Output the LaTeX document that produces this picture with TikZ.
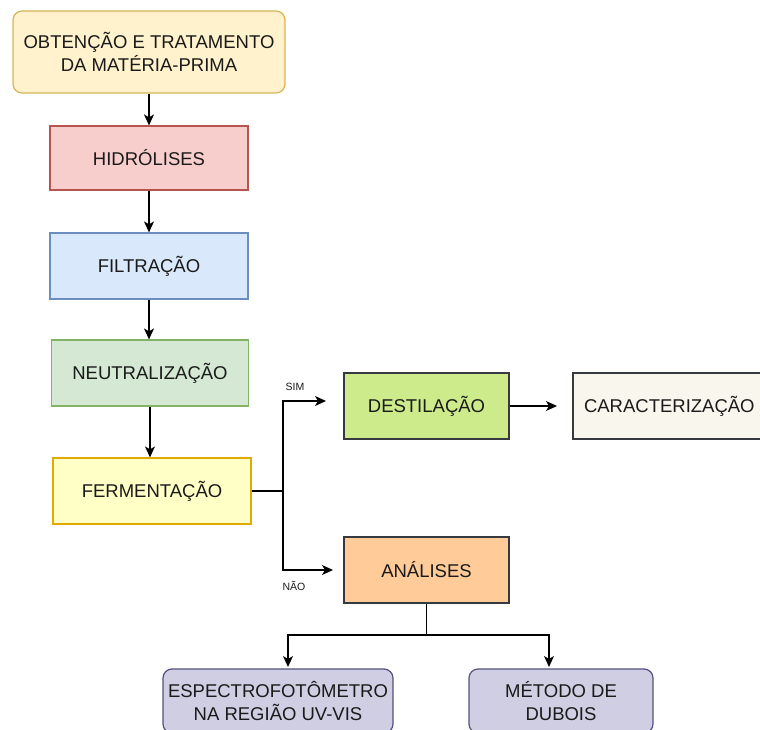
\documentclass[tikz,border=0pt]{standalone}
\usepackage{fontspec}
\setmainfont{Liberation Sans}
\usetikzlibrary{arrows.meta}
\definecolor{txt}{HTML}{1A1A1A}
\definecolor{line}{HTML}{36393D}
\definecolor{topF}{HTML}{FFF2CC}\definecolor{topD}{HTML}{D6B656}
\definecolor{hidF}{HTML}{F8CECC}\definecolor{hidD}{HTML}{B85450}
\definecolor{filF}{HTML}{DAE8FC}\definecolor{filD}{HTML}{6C8EBF}
\definecolor{neuF}{HTML}{D5E8D4}\definecolor{neuD}{HTML}{82B366}
\definecolor{ferF}{HTML}{FFFFC6}\definecolor{ferD}{HTML}{E0A800}
\definecolor{desF}{HTML}{CDEB8B}
\definecolor{carF}{HTML}{F9F7ED}
\definecolor{anaF}{HTML}{FFCC99}
\definecolor{purF}{HTML}{D0CEE2}\definecolor{purD}{HTML}{56517E}
\tikzset{
  box/.style={draw, line width=1.2pt, align=center, inner sep=0pt, text=txt,
    font=\fontsize{18.5}{23}\selectfont},
  conn/.style={line width=1.3pt, black},
  arr/.style={conn, -{Stealth[length=11pt,width=10pt,inset=3pt]}},
  lbl/.style={font=\fontsize{10.5}{12}\selectfont, text=txt, inner sep=0pt}
}
\begin{document}
\begin{tikzpicture}[x=1pt,y=-1pt]
\useasboundingbox (0,0) rectangle (760,730);
\fill[white] (0,0) rectangle (760,730);
\begin{scope}
\clip (0,0) rectangle (760,730);
\node[box, rounded corners=9pt, fill=topF, draw=topD, minimum width=272pt, minimum height=82pt] (top) at (149,52) {OBTENÇÃO E TRATAMENTO\\DA MATÉRIA-PRIMA};
\node[box, fill=hidF, draw=hidD, minimum width=198pt, minimum height=64pt] (hid) at (149,158) {HIDRÓLISES};
\node[box, fill=filF, draw=filD, minimum width=198pt, minimum height=66pt] (fil) at (149,266) {FILTRAÇÃO};
\node[box, fill=neuF, draw=neuD, minimum width=197pt, minimum height=66pt] (neu) at (150,373) {NEUTRALIZAÇÃO};
\node[box, fill=ferF, draw=ferD, minimum width=198pt, minimum height=66pt] (fer) at (152,491) {FERMENTAÇÃO};
\node[box, fill=desF, draw=line, minimum width=165pt, minimum height=66pt] (des) at (426.5,406) {DESTILAÇÃO};
\node[box, fill=carF, draw=line, minimum width=200pt, minimum height=66pt, text width=200pt, align=left] (car) at (673,406) {\hspace*{11pt}CARACTERIZAÇÃO};
\node[box, fill=anaF, draw=line, minimum width=165pt, minimum height=66pt] (ana) at (426.5,570) {ANÁLISES};
\node[box, rounded corners=9pt, fill=purF, draw=purD, minimum width=230pt, minimum height=64pt] (esp) at (278,701) {ESPECTROFOTÔMETRO\\NA REGIÃO UV-VIS};
\node[box, rounded corners=9pt, fill=purF, draw=purD, minimum width=184pt, minimum height=64pt] (dub) at (561,701) {MÉTODO DE\\DUBOIS};

\draw[arr] (top.south -| hid.north) -- (hid.north);
\draw[arr] (hid.south) -- (fil.north);
\draw[arr] (fil.south) -- (fil.south |- neu.north);
\draw[arr] (neu.south) -- (neu.south |- fer.north);

\coordinate (j) at (283,491);
\coordinate (simtip) at (326,401);
\coordinate (naotip) at (333,570);
\draw[conn] (fer.east) -- (j);
\draw[arr] (j) |- (simtip);
\draw[arr] (j) |- (naotip);
\node[lbl] (sim) at (295,387) {SIM};
\node[lbl] (nao) at (294,586) {NÃO};

\coordinate (cartip) at (557,406);
\draw[arr] (des.east) -- (cartip);

\coordinate (split) at (426.5,635);
\coordinate (esptip) at (288,667);
\coordinate (dubtip) at (549,667);
\draw[conn] (ana.south) -- (split);
\draw[arr] (split) -| (esptip);
\draw[arr] (split) -| (dubtip);
\end{scope}
\end{tikzpicture}
\end{document}
